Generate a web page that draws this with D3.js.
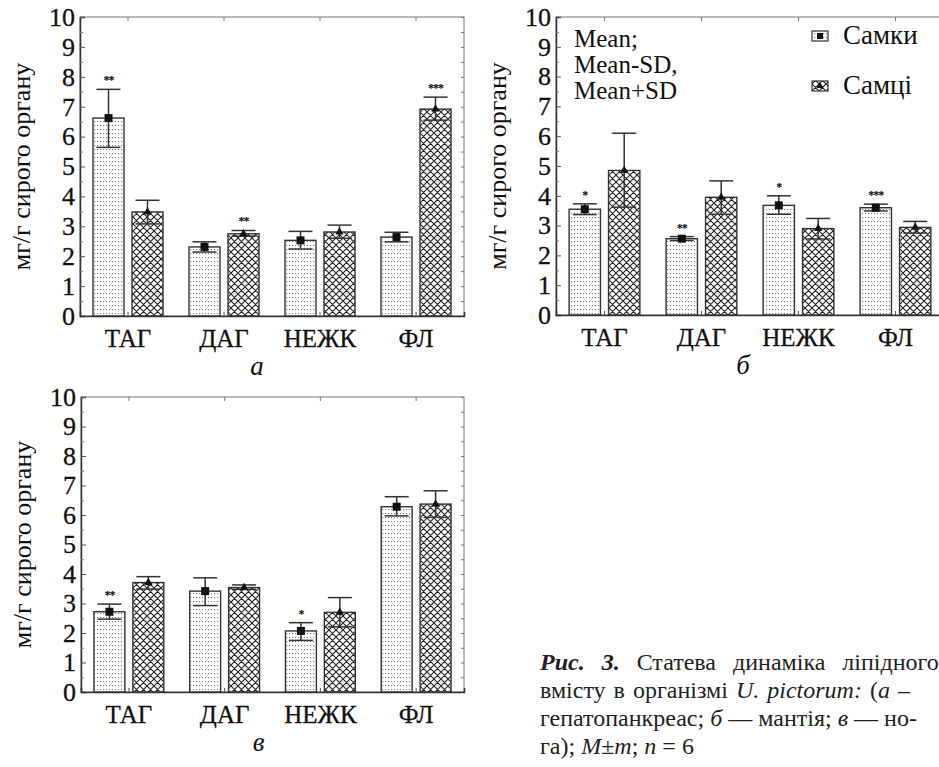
<!DOCTYPE html>
<html>
<head>
<meta charset="utf-8">
<script src="https://cdn.jsdelivr.net/npm/d3@7"></script>
<style>
  body { margin: 0; background: #fff; }
  svg text { font-family: "Liberation Serif", "Times New Roman", Times, serif; }
</style>
</head>
<body>
<div id="graph"></div>
<script>
var categories = ["ТАГ", "ДАГ", "НЕЖК", "ФЛ"];
var sexes = ["Самки", "Самці"];
var yTicks = [0, 1, 2, 3, 4, 5, 6, 7, 8, 9, 10];

// панель а — гепатопанкреас
var femA = [6.62, 2.31, 2.53, 2.64];
var femA_lo = [5.64, 2.14, 2.24, 2.48];
var femA_hi = [7.58, 2.48, 2.83, 2.80];
var maleA = [3.48, 2.75, 2.81, 6.92];
var maleA_lo = [3.08, 2.67, 2.60, 6.55];
var maleA_hi = [3.87, 2.86, 3.04, 7.32];
var femA_stars = ["**", "", "", ""];
var maleA_stars = ["", "**", "", "***"];

// панель б — мантія
var femB = [3.55, 2.56, 3.68, 3.60];
var femB_lo = [3.37, 2.50, 3.38, 3.49];
var femB_hi = [3.73, 2.63, 4.00, 3.72];
var maleB = [4.85, 3.95, 2.90, 2.94];
var maleB_lo = [3.62, 3.38, 2.55, 2.75];
var maleB_hi = [6.10, 4.50, 3.24, 3.14];
var femB_stars = ["*", "**", "*", "***"];
var maleB_stars = ["", "", "", ""];

// панель в — нога
var femC = [2.72, 3.42, 2.07, 6.28];
var femC_lo = [2.47, 2.93, 1.75, 5.97];
var femC_hi = [2.98, 3.87, 2.35, 6.62];
var maleC = [3.71, 3.54, 2.70, 6.37];
var maleC_lo = [3.49, 3.48, 2.21, 5.92];
var maleC_hi = [3.91, 3.63, 3.20, 6.82];
var femC_stars = ["**", "", "*", ""];
var maleC_stars = ["", "", "", ""];

var serif = "'Liberation Serif', 'Times New Roman', Times, serif";
var svg = d3.select("#graph").append("svg").attr("width", 939).attr("height", 767);

var defs = svg.append("defs");
var dots = defs.append("pattern").attr("id", "dots").attr("patternUnits", "userSpaceOnUse")
    .attr("width", 3).attr("height", 4);
dots.append("rect").attr("width", 3).attr("height", 4).attr("fill", "#fff");
dots.append("rect").attr("x", 1).attr("y", 1).attr("width", 1.1).attr("height", 1.1).attr("fill", "#777");
var hatch = defs.append("pattern").attr("id", "hatch").attr("patternUnits", "userSpaceOnUse")
    .attr("width", 7).attr("height", 7);
hatch.append("rect").attr("width", 7).attr("height", 7).attr("fill", "#fff");
hatch.append("path").attr("d", "M0,0L7,7M7,0L0,7M-1,6L1,8M6,-1L8,1M-1,1L1,-1M6,8L8,6")
    .attr("stroke", "#222").attr("stroke-width", 1.1);

function panel(o) {
    var g = svg.append("g");
    var x = d3.scaleBand().domain(categories).range([o.left, o.right]).padding(0);
    var xs = d3.scaleBand().domain(sexes).range([0, x.bandwidth()])
        .paddingInner(0.205).paddingOuter(0.333);
    var y = d3.scaleLinear().domain([0, 10]).range([o.bottom, o.top]);

    // frame
    g.append("rect").attr("x", o.left).attr("y", o.top)
        .attr("width", o.right - o.left).attr("height", o.bottom - o.top)
        .attr("fill", "none").attr("stroke", "#777").attr("stroke-width", 1);

    var series = [
        {sex: "Самки", v: o.fem, lo: o.femLo, hi: o.femHi, st: o.femSt, fill: "url(#dots)"},
        {sex: "Самці", v: o.male, lo: o.maleLo, hi: o.maleHi, st: o.maleSt, fill: "url(#hatch)"}
    ];

    series.forEach(function(s) {
        var rows = categories.map(function(c, i) {
            return {c: c, v: s.v[i], lo: s.lo[i], hi: s.hi[i], st: s.st[i]};
        });
        var cx = function(d) { return x(d.c) + xs(s.sex) + xs.bandwidth() / 2; };

        g.selectAll(null).data(rows).enter().append("rect")
            .attr("x", function(d) { return x(d.c) + xs(s.sex); })
            .attr("y", function(d) { return y(d.v); })
            .attr("width", xs.bandwidth())
            .attr("height", function(d) { return y(0) - y(d.v); })
            .attr("fill", s.fill)
            .attr("stroke", "#333").attr("stroke-width", 1.4);

        // error bars
        g.selectAll(null).data(rows).enter().append("line")
            .attr("x1", cx).attr("x2", cx)
            .attr("y1", function(d) { return y(d.lo); })
            .attr("y2", function(d) { return y(d.hi); })
            .attr("stroke", "#333").attr("stroke-width", 1.5);
        ["lo", "hi"].forEach(function(k) {
            g.selectAll(null).data(rows).enter().append("line")
                .attr("x1", function(d) { return cx(d) - 12; })
                .attr("x2", function(d) { return cx(d) + 12; })
                .attr("y1", function(d) { return y(d[k]); })
                .attr("y2", function(d) { return y(d[k]); })
                .attr("stroke", "#333").attr("stroke-width", 1.5);
        });

        // markers
        if (s.sex == "Самки") {
            g.selectAll(null).data(rows).enter().append("rect")
                .attr("x", function(d) { return cx(d) - 4; })
                .attr("y", function(d) { return y(d.v) - 4; })
                .attr("width", 8).attr("height", 8)
                .attr("fill", "#111");
        } else {
            g.selectAll(null).data(rows).enter().append("path")
                .attr("transform", function(d) { return "translate(" + cx(d) + "," + y(d.v) + ")"; })
                .attr("d", d3.symbol().type(d3.symbolTriangle).size(30))
                .attr("fill", "#111");
        }

        // significance stars
        g.selectAll(null).data(rows).enter().append("text")
            .attr("x", cx)
            .attr("y", function(d) { return y(d.hi) - 5; })
            .attr("text-anchor", "middle")
            .style("font-size", "12px").style("font-weight", "bold")
            .style("letter-spacing", "-1px").attr("fill", "#000")
            .text(function(d) { return d.st; });
    });

    // axes
    var ax = g.append("g").attr("transform", "translate(" + o.left + ",0)")
        .call(d3.axisLeft(y).tickValues(yTicks).tickSize(-5).tickPadding(5).tickFormat(d3.format("d")));
    ax.attr("font-family", null).attr("font-size", null);
    ax.select(".domain").attr("stroke", "#333").attr("stroke-width", 1.5);
    ax.selectAll("text").style("font-size", "26px").attr("fill", "#111")
        .style("font-family", serif).attr("stroke", "#111").attr("stroke-width", 0.3);
    ax.selectAll(".tick line").attr("stroke", "#555");
    var halves = d3.range(0.5, 10, 1);
    g.append("g").attr("transform", "translate(" + o.left + ",0)")
        .call(d3.axisLeft(y).tickValues(halves).tickSize(-3).tickFormat(""))
        .call(function(s) { s.select(".domain").remove(); s.selectAll("line").attr("stroke", "#777"); });
    g.append("g").attr("transform", "translate(" + o.right + ",0)")
        .call(d3.axisRight(y).tickValues(yTicks.concat(halves)).tickSize(-3).tickFormat(""))
        .call(function(s) { s.select(".domain").remove(); s.selectAll("line").attr("stroke", "#777"); });

    var bx = g.append("g").attr("transform", "translate(0," + o.bottom + ")")
        .call(d3.axisBottom(x).tickSize(-4).tickPadding(13));
    bx.attr("font-family", null).attr("font-size", null);
    bx.select(".domain").attr("stroke", "#333").attr("stroke-width", 1.5);
    bx.selectAll(".tick line").attr("stroke", "#555");
    bx.selectAll("text").style("font-size", "25px").attr("fill", "#111")
        .style("font-family", serif).attr("dy", "0.71em")
        .attr("stroke", "#111").attr("stroke-width", 0.3);
    g.append("g").attr("transform", "translate(0," + o.top + ")")
        .call(d3.axisTop(x).tickSize(-4).tickFormat(""))
        .call(function(s) { s.select(".domain").remove(); s.selectAll("line").attr("stroke", "#777"); });

    // y title
    g.append("text")
        .attr("transform", "translate(" + o.titleX + "," + ((o.top + o.bottom) / 2) + ") rotate(-90)")
        .attr("text-anchor", "middle")
        .style("font-size", "26px").attr("fill", "#111")
        .text("мг/г сирого органу");

    // panel letter
    g.append("text").attr("x", (o.left + o.right) / 2 + o.letterDx).attr("y", o.bottom + 59)
        .attr("text-anchor", "middle")
        .style("font-size", "27px").style("font-style", "italic").attr("fill", "#111")
        .text(o.letter);
    return {x: x, y: y};
}

panel({left: 80, right: 464, top: 17, bottom: 316, titleX: 30, letter: "а", letterDx: -15,
    fem: femA, femLo: femA_lo, femHi: femA_hi, femSt: femA_stars,
    male: maleA, maleLo: maleA_lo, maleHi: maleA_hi, maleSt: maleA_stars});
panel({left: 556, right: 944, top: 17, bottom: 315, titleX: 506, letter: "б", letterDx: -7,
    fem: femB, femLo: femB_lo, femHi: femB_hi, femSt: femB_stars,
    male: maleB, maleLo: maleB_lo, maleHi: maleB_hi, maleSt: maleB_stars});
panel({left: 81, right: 464, top: 397, bottom: 692, titleX: 31, letter: "в", letterDx: -14,
    fem: femC, femLo: femC_lo, femHi: femC_hi, femSt: femC_stars,
    male: maleC, maleLo: maleC_lo, maleHi: maleC_hi, maleSt: maleC_stars});

// легенда (панель б)
var leg = svg.append("g");
["Mean;", "Mean-SD,", "Mean+SD"].forEach(function(t, i) {
    leg.append("text").attr("x", 574).attr("y", 47 + i * 26)
        .style("font-size", "25px").attr("fill", "#111").text(t);
});
var legItems = [{name: "Самки", fill: "url(#dots)", y: 31}, {name: "Самці", fill: "url(#hatch)", y: 81}];
legItems.forEach(function(d) {
    leg.append("rect").attr("x", 812).attr("y", d.y).attr("width", 16).attr("height", 10)
        .attr("fill", d.fill).attr("stroke", "#333").attr("stroke-width", 1.2);
    if (d.name == "Самки") {
        leg.append("rect").attr("x", 817).attr("y", d.y + 2).attr("width", 6).attr("height", 6).attr("fill", "#111");
    } else {
        leg.append("path").attr("transform", "translate(820," + (d.y + 5) + ")")
            .attr("d", d3.symbol().type(d3.symbolTriangle).size(22)).attr("fill", "#111");
    }
    leg.append("text").attr("x", 843).attr("y", d.y + 13)
        .style("font-size", "27px").attr("fill", "#111").text(d.name);
});

// підпис
var cap = svg.append("text").style("font-size", "24px").attr("fill", "#222");
var l1 = cap.append("tspan").attr("x", 540).attr("y", 670).style("word-spacing", "11px");
l1.append("tspan").style("font-weight", "bold").style("font-style", "italic").text("Рис. 3.");
l1.append("tspan").text(" Статева динаміка ліпідного");
var l2 = cap.append("tspan").attr("x", 540).attr("y", 698).style("word-spacing", "2px");
l2.append("tspan").text("вмісту в організмі ");
l2.append("tspan").style("font-style", "italic").text("U. pictorum:");
l2.append("tspan").text(" (");
l2.append("tspan").style("font-style", "italic").text("а");
l2.append("tspan").text(" –");
var l3 = cap.append("tspan").attr("x", 540).attr("y", 726);
l3.append("tspan").text("гепатопанкреас; ");
l3.append("tspan").style("font-style", "italic").text("б");
l3.append("tspan").text(" — мантія; ");
l3.append("tspan").style("font-style", "italic").text("в");
l3.append("tspan").text(" — но-");
var l4 = cap.append("tspan").attr("x", 540).attr("y", 754);
l4.append("tspan").text("га); ");
l4.append("tspan").style("font-style", "italic").text("M");
l4.append("tspan").text("±");
l4.append("tspan").style("font-style", "italic").text("m");
l4.append("tspan").text("; ");
l4.append("tspan").style("font-style", "italic").text("n");
l4.append("tspan").text(" = 6");
</script>
</body>
</html>
